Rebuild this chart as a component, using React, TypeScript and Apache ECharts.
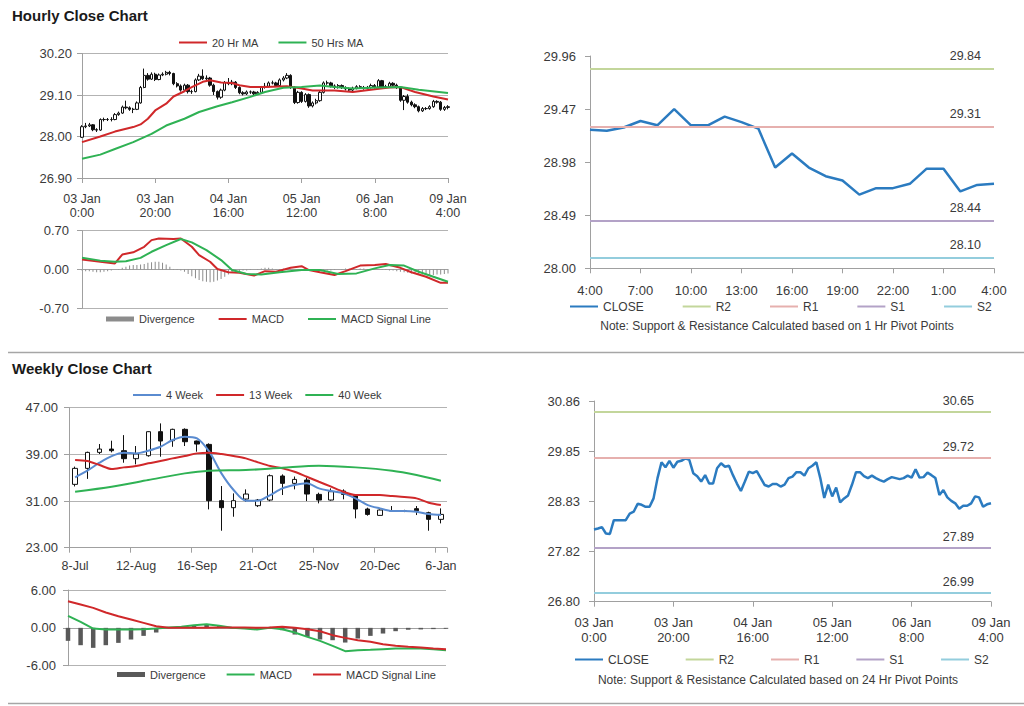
import React, { useEffect, useRef } from "react";
import * as echarts from "echarts";

// ---------- tick labels ----------
const hourlyTicks = ["03 Jan\n0:00", "03 Jan\n20:00", "04 Jan\n16:00", "05 Jan\n12:00", "06 Jan\n8:00", "09 Jan\n4:00"];
const lastDayTicks = ["4:00", "7:00", "10:00", "13:00", "16:00", "19:00", "22:00", "1:00", "4:00"];
const weeklyTicks = ["8-Jul", "12-Aug", "16-Sep", "21-Oct", "25-Nov", "20-Dec", "6-Jan"];
const dailyYTicks = ["26.80", "27.82", "28.83", "29.85", "30.86"];

// ---------- hourly (03 Jan 0:00 .. 09 Jan 4:00) ----------
const hourlyClose = [
  28.26, 28.28, 28.31, 28.18, 28.17, 28.45, 28.45, 28.45, 28.45, 28.58,
  28.62, 28.78, 28.76, 28.72, 28.72, 28.89, 29.30, 29.62, 29.52, 29.65,
  29.51, 29.63, 29.65, 29.70, 29.67, 29.40, 29.34, 29.23, 29.36, 29.19,
  29.19, 29.50, 29.60, 29.53, 29.55, 29.36, 29.19, 29.04, 29.23, 29.43,
  29.40, 29.44, 29.30, 29.16, 29.13, 29.18, 29.18, 29.13, 29.17, 29.30,
  29.33, 29.42, 29.42, 29.35, 29.50, 29.55, 29.62, 29.30, 28.90, 29.17,
  28.93, 29.11, 28.81, 28.89, 28.95, 29.17, 29.42, 29.42, 29.34, 29.30,
  29.35, 29.30, 29.26, 29.23, 29.28, 29.32, 29.30, 29.28, 29.30, 29.35,
  29.31, 29.48, 29.31, 29.32, 29.41, 29.36, 29.30, 28.96, 29.06, 28.91,
  28.84, 28.79, 28.68, 28.74, 28.74, 28.79, 28.93, 28.91, 28.72, 28.77,
  28.79,
];
const hourlyOpen = [
  27.98, 28.26, 28.28, 28.31, 28.18, 28.17, 28.45, 28.45, 28.45, 28.45,
  28.58, 28.62, 28.78, 28.76, 28.72, 28.72, 28.89, 29.30, 29.62, 29.52,
  29.65, 29.51, 29.63, 29.65, 29.70, 29.67, 29.40, 29.34, 29.23, 29.36,
  29.19, 29.19, 29.50, 29.60, 29.53, 29.55, 29.36, 29.19, 29.04, 29.23,
  29.43, 29.40, 29.44, 29.30, 29.16, 29.13, 29.18, 29.18, 29.13, 29.17,
  29.30, 29.33, 29.42, 29.42, 29.35, 29.50, 29.55, 29.62, 29.30, 28.90,
  29.17, 28.93, 29.11, 28.81, 28.89, 28.95, 29.17, 29.42, 29.42, 29.34,
  29.30, 29.35, 29.30, 29.26, 29.23, 29.28, 29.32, 29.30, 29.28, 29.30,
  29.35, 29.31, 29.48, 29.31, 29.32, 29.41, 29.36, 29.30, 28.96, 29.06,
  28.91, 28.84, 28.79, 28.68, 28.74, 28.74, 28.79, 28.93, 28.91, 28.72,
  28.77,
];
const hourlyHigh = [
  28.30, 28.36, 28.36, 28.33, 28.22, 28.48, 28.50, 28.49, 28.51, 28.62,
  28.66, 28.82, 28.95, 28.80, 28.76, 28.93, 29.34, 29.80, 29.68, 29.70,
  29.69, 29.67, 29.70, 29.74, 29.74, 29.69, 29.44, 29.38, 29.40, 29.39,
  29.24, 29.54, 29.66, 29.78, 29.62, 29.58, 29.40, 29.22, 29.27, 29.47,
  29.55, 29.50, 29.47, 29.33, 29.20, 29.22, 29.22, 29.21, 29.20, 29.34,
  29.42, 29.46, 29.48, 29.45, 29.54, 29.60, 29.68, 29.65, 29.33, 29.21,
  29.20, 29.15, 29.14, 28.93, 29.00, 29.21, 29.46, 29.48, 29.45, 29.38,
  29.39, 29.38, 29.33, 29.30, 29.32, 29.36, 29.36, 29.34, 29.34, 29.40,
  29.39, 29.52, 29.50, 29.37, 29.45, 29.44, 29.40, 29.33, 29.10, 29.12,
  28.95, 28.88, 28.82, 28.78, 28.78, 28.83, 28.97, 28.96, 28.94, 28.81,
  28.83,
];
const hourlyLow = [
  27.96, 28.22, 28.25, 28.14, 28.12, 28.15, 28.40, 28.41, 28.40, 28.43,
  28.55, 28.60, 28.72, 28.68, 28.62, 28.70, 28.87, 29.28, 29.48, 29.50,
  29.47, 29.49, 29.60, 29.62, 29.62, 29.36, 29.30, 29.19, 29.20, 29.14,
  29.13, 29.17, 29.47, 29.50, 29.49, 29.32, 29.10, 28.98, 29.00, 29.20,
  29.36, 29.36, 29.26, 29.12, 29.09, 29.10, 29.13, 29.10, 29.10, 29.14,
  29.27, 29.30, 29.38, 29.31, 29.32, 29.46, 29.52, 29.26, 28.86, 28.87,
  28.89, 28.90, 28.76, 28.77, 28.85, 28.92, 29.14, 29.37, 29.30, 29.26,
  29.27, 29.26, 29.22, 29.19, 29.20, 29.25, 29.26, 29.24, 29.25, 29.27,
  29.27, 29.29, 29.27, 29.28, 29.29, 29.32, 29.26, 28.92, 28.70, 28.87,
  28.80, 28.75, 28.64, 28.65, 28.70, 28.71, 28.76, 28.87, 28.68, 28.68,
  28.72,
];
// [hour index, value]
const ma20Hour = [
  [0, 27.85], [5, 28.0], [9, 28.13], [14, 28.25], [16, 28.32], [18, 28.47], [20, 28.69], [23, 28.87],
  [25, 29.06], [28, 29.2], [30, 29.31], [33, 29.45], [35, 29.49], [38, 29.43], [41, 29.42], [43, 29.36],
  [46, 29.31], [50, 29.31], [56, 29.33], [60, 29.27], [63, 29.22], [69, 29.22], [74, 29.18], [80, 29.25],
  [84, 29.3], [87, 29.31], [91, 29.18], [96, 29.06], [100, 28.98],
];
const ma50Hour = [
  [0, 27.41], [5, 27.52], [9, 27.67], [14, 27.85], [19, 28.07], [23, 28.29], [28, 28.47], [32, 28.65],
  [37, 28.8], [41, 28.91], [46, 29.05], [50, 29.18], [55, 29.29], [60, 29.31], [65, 29.35], [69, 29.31],
  [74, 29.27], [80, 29.3], [87, 29.31], [92, 29.24], [100, 29.15],
];
const hourlyDivergence = [
  -0.02, -0.03, -0.03, -0.04, -0.05, -0.05, -0.04, -0.03, -0.02,
  0.0, 0.01,
  0.03, 0.05, 0.07, 0.08, 0.08, 0.09, 0.1, 0.12, 0.13, 0.14, 0.14, 0.12, 0.09, 0.05,
  0.01, -0.01, -0.02, -0.04,
  -0.08, -0.12, -0.16, -0.19, -0.21, -0.22, -0.23, -0.22, -0.2, -0.17, -0.13, -0.09,
  -0.06, -0.04, -0.03, -0.02, -0.02, -0.01, 0.0, 0.01,
  0.02, 0.03, 0.03, 0.02, 0.01,
  0.01, 0.02, 0.02, 0.01, 0.0, -0.01, -0.01,
  -0.01, 0.0, 0.01, 0.01, 0.0, -0.01, -0.02, -0.02, -0.01, 0.0, 0.01, 0.02, 0.02, 0.01, 0.01,
  0.02, 0.02, 0.01, 0.01, 0.0, 0.0, -0.01, -0.01, -0.02, -0.02, -0.03,
  -0.04, -0.05, -0.06, -0.07, -0.08, -0.08, -0.09, -0.09, -0.1, -0.1, -0.09, -0.09, -0.08, -0.07,
];
const hourlyMacd = [
  [0, 0.18], [5, 0.14], [9, 0.11], [11, 0.27], [14, 0.31], [17, 0.41], [19, 0.53], [21, 0.56], [25, 0.55],
  [27, 0.56], [30, 0.41], [32, 0.26], [35, 0.14], [37, 0.01], [40, -0.05], [43, -0.06], [47, -0.11],
  [50, -0.03], [53, -0.04], [57, 0.03], [60, 0.06], [62, -0.01], [65, -0.05], [69, -0.1], [72, -0.03],
  [76, 0.07], [80, 0.08], [83, 0.1], [87, 0.03], [90, -0.05], [94, -0.13], [98, -0.24], [100, -0.24],
];
const hourlySignal = [
  [0, 0.21], [5, 0.16], [9, 0.14], [12, 0.15], [16, 0.21], [19, 0.32], [23, 0.44], [27, 0.55], [30, 0.49],
  [34, 0.35], [38, 0.17], [41, -0.01], [45, -0.08], [49, -0.09], [54, -0.05], [60, -0.01], [65, -0.01],
  [70, -0.08], [75, -0.07], [80, 0.02], [84, 0.08], [88, 0.07], [92, -0.04], [96, -0.13], [100, -0.22],
];

// ---------- last 24 hours (1 Hr pivots) ----------
const lastDayClose = [
  29.28, 29.27, 29.3, 29.36, 29.32, 29.47, 29.32, 29.32, 29.4, 29.35, 29.29, 28.93, 29.06,
  28.93, 28.85, 28.81, 28.68, 28.74, 28.74, 28.78, 28.92, 28.92, 28.71, 28.77, 28.78,
];
const pivotNames = ["R2", "R1", "S1", "S2"];
const pivotColors = ["#c3d69b", "#e6b0ae", "#b3a2c7", "#93cddd"];
const hourPivots = [29.84, 29.31, 28.44, 28.1];
const dayPivots = [30.65, 29.72, 27.89, 26.99];

// ---------- weekly ----------
const weeklyOpen = [
  33.86, 36.6, 39.34, 39.91, 39.63, 38.26, 38.77, 42.89, 41.34, 43.29, 41.29, 40.71, 31.06, 29.86, 31.34, 30.2,
  31.17, 35.29, 34.03, 34.6, 32.14, 31.17, 32.71, 32.03, 29.63, 28.54, 29.34, 29.29, 29.69, 29.0, 27.86,
];
const weeklyClose = [
  36.6, 39.34, 39.91, 39.63, 38.26, 39.06, 42.89, 41.29, 43.29, 41.17, 40.77, 31.06, 29.86, 31.06, 32.2, 31.17,
  35.34, 34.03, 34.71, 32.2, 31.17, 32.6, 32.14, 29.63, 28.71, 29.46, 29.29, 29.29, 29.34, 27.86, 28.71,
];
const weeklyLow = [
  33.5, 34.8, 39.06, 39.34, 37.57, 37.29, 38.6, 38.6, 40.3, 40.43, 39.46, 29.57, 25.91, 28.31, 30.89, 29.97,
  30.97, 32.03, 33.0, 31.0, 30.6, 31.06, 31.29, 28.03, 28.49, 28.49, 29.17, 29.1, 28.6, 25.91, 27.17,
];
const weeklyHigh = [
  36.9, 39.46, 40.77, 41.34, 42.3, 40.43, 42.95, 44.31, 43.4, 43.46, 41.35, 40.89, 33.57, 32.31, 33.0, 31.35,
  35.57, 35.57, 35.2, 35.0, 32.43, 33.17, 33.0, 32.2, 29.86, 29.57, 30.14, 29.5, 30.14, 29.17, 29.74,
];
const ma4Week = [
  35.06, 36.2, 37.57, 38.71, 39.29, 39.17, 39.63, 40.31, 41.46, 42.03, 41.74, 39.46, 35.74, 32.89, 31.06, 31.06,
  32.03, 33.17, 33.74, 34.03, 33.17, 32.71, 32.31, 31.46, 30.31, 29.74, 29.29, 29.29, 29.17, 28.77, 28.6,
];
const ma13Week = [
  38.03, 37.86, 37.17, 36.49, 36.77, 37.0, 37.46, 37.86, 38.31, 38.71, 39.17, 39.29, 39.06, 38.71, 38.31, 37.63,
  37.0, 36.6, 36.03, 35.17, 34.31, 33.46, 32.6, 32.03, 32.03, 32.03, 31.86, 31.69, 31.46, 30.71, 30.31,
];
const ma40Week = [
  [0, 32.6], [3, 33.46], [6, 34.6], [9, 35.74], [11, 36.2], [14, 36.31], [17, 36.71], [20, 37.06],
  [23, 36.77], [26, 36.2], [28, 35.46], [30, 34.49],
];
const weeklyDivergence = [
  -2.06, -2.75, -3.17, -2.75, -2.38, -1.85, -1.27, -0.74, 0.05, 0.16, 0.42, 0.58, 0.28, -0.05, -0.16, -0.26,
  -0.05, -0.37, -1.06, -1.43, -1.85, -1.96, -2.33, -1.69, -1.27, -0.9, -0.53, -0.3, -0.25, -0.2, -0.15,
];
const weeklyMacd = [
  1.9, 0.95, -0.11, -0.26, -0.26, -0.26, -0.21, -0.11, 0.05, 0.16, 0.42, 0.58, 0.32, 0.0, -0.11, -0.26,
  0.0, -0.21, -0.74, -1.43, -2.06, -2.85, -3.7, -3.54, -3.49, -3.38, -3.28, -3.28, -3.28, -3.38, -3.54,
];
const weeklySignal = [
  4.23, 3.7, 3.17, 2.43, 1.85, 1.32, 0.79, 0.26, 0.0, 0.0, 0.0, 0.0, 0.05, 0.05, 0.05, 0.0,
  0.05, 0.16, 0.0, -0.21, -0.53, -1.16, -1.59, -1.96, -2.22, -2.59, -2.85, -3.01, -3.12, -3.28, -3.38,
];

// ---------- styling ----------
const FONT = "'Liberation Sans', Arial, sans-serif";
const AX = "#a0a0a0";
const GRIDC = "#b3b3b3";
const TXT = "#3a3a3a";
const RED = "#d0282a";
const GREEN = "#2fb254";
const BLUE = "#2b7bc0";
const LINE_ICON = "path://M0,0L28,0L28,2L0,2Z";
const BAR_ICON = "path://M0,0L28,0L28,5L0,5Z";

const fmt2 = (v: number) => (Math.abs(v) < 1e-9 ? 0 : v).toFixed(2);
const cats = (n: number) => Array.from({ length: n }, (_, i) => String(i));

function yAxis(gridIndex: number, min: number, max: number, interval: number, split: boolean, margin: number, formatter: any) {
  return {
    type: "value", gridIndex, min, max, interval,
    axisLine: { show: true, lineStyle: { color: AX, width: 1 } },
    axisTick: { show: true, length: 5, lineStyle: { color: AX } },
    axisLabel: { color: TXT, fontSize: 13, fontFamily: FONT, margin, formatter },
    splitLine: { show: split, lineStyle: { color: GRIDC, width: 1 } },
  };
}

function catAxis(gridIndex: number, n: number, boundaryGap: boolean, labelInterval: number | null, step: number, ticks: string[] | null, margin: number, fontSize: number, lineHeight: number) {
  const show = labelInterval !== null;
  return {
    type: "category", gridIndex, data: cats(n), boundaryGap,
    axisLine: { show: true, onZero: !show, lineStyle: { color: AX, width: 1 } },
    axisTick: show ? { show: true, interval: labelInterval, length: 5, lineStyle: { color: AX } } : { show: false },
    axisLabel: show
      ? {
          show: true, interval: labelInterval, color: TXT, fontSize, fontFamily: FONT, margin, lineHeight,
          formatter: (v: string) => (ticks as string[])[Number(v) / step] ?? "",
        }
      : { show: false },
    splitLine: { show: false },
  };
}

const strip = (name: string) => name.slice(name.indexOf(":") + 1);

function legend(names: string[], bars: string[], left: number, top: number, itemGap: number, fontSize: number) {
  return {
    data: names.map((n) => ({ name: n, icon: bars.includes(n) ? BAR_ICON : LINE_ICON })),
    left, top, itemGap, itemWidth: 28, itemHeight: 5, padding: 0, symbolKeepAspect: true,
    selectedMode: false, formatter: strip,
    textStyle: { fontSize, color: TXT, fontFamily: FONT },
  };
}

function pivotSeries(prefix: string, values: number[], xi: number, yi: number, dist: number[]) {
  return pivotNames.map((n, i) => ({
    name: `${prefix}:${n}`, type: "line", xAxisIndex: xi, yAxisIndex: yi, data: [],
    color: pivotColors[i], symbol: "none", lineStyle: { color: pivotColors[i], width: 2 },
    markLine: {
      silent: true, symbol: ["none", "none"],
      lineStyle: { color: pivotColors[i], width: 2, type: "solid" },
      data: [{ yAxis: values[i] }],
      label: {
        show: true, position: "insideEndTop", distance: dist, formatter: () => values[i].toFixed(2),
        color: TXT, fontSize: 12.5, fontFamily: FONT,
      },
    },
  }));
}

export default function App() {
  const ref = useRef<HTMLDivElement>(null);
  useEffect(() => {
    if (!ref.current) return;
    const chart = echarts.init(ref.current, undefined, { renderer: "svg" });
    const hourlyCandles = hourlyOpen.map((o, i) => [o, hourlyClose[i], hourlyLow[i], hourlyHigh[i]]);
    const weeklyCandles = weeklyOpen.map((o, i) => [o, weeklyClose[i], weeklyLow[i], weeklyHigh[i]]);
    const candleStyle = { color: "#ffffff", color0: "#111111", borderColor: "#111111", borderColor0: "#111111", borderWidth: 1 };
    const line = (name: string, data: any[], color: string, xi: number, yi: number, width = 2, smooth: any = false) => ({
      name, type: "line", data, xAxisIndex: xi, yAxisIndex: yi, color, symbol: "none", smooth,
      lineStyle: { color, width }, z: 3,
    });

    const option: any = {
      animation: false,
      backgroundColor: "#ffffff",
      textStyle: { fontFamily: FONT },
      grid: [
        { left: 82, top: 53.5, width: 366, height: 124.5 },
        { left: 82, top: 230.7, width: 366, height: 77.6 },
        { left: 590, top: 56, width: 404, height: 212.3 },
        { left: 69, top: 407.7, width: 378, height: 140 },
        { left: 68, top: 590, width: 378, height: 75.7 },
        { left: 594, top: 401, width: 397, height: 200.7 },
      ],
      xAxis: [
        catAxis(0, hourlyClose.length, false, 19, 20, hourlyTicks, 14, 12.5, 14),
        catAxis(1, hourlyDivergence.length, false, null, 1, null, 0, 12, 14),
        catAxis(2, lastDayClose.length, false, 2, 3, lastDayTicks, 15, 13, 14),
        catAxis(3, weeklyClose.length, true, 4, 5, weeklyTicks, 11, 12.5, 14),
        catAxis(4, weeklyMacd.length, false, null, 1, null, 0, 12, 14),
        catAxis(5, hourlyClose.length, false, 19, 20, hourlyTicks, 13, 13, 15),
      ],
      yAxis: [
        yAxis(0, 26.9, 30.2, 1.1, true, 10, fmt2),
        yAxis(1, -0.7, 0.7, 0.7, true, 13, fmt2),
        yAxis(2, 28.0, 29.96, 0.49, false, 14, fmt2),
        yAxis(3, 23, 47, 8, true, 11, fmt2),
        yAxis(4, -6, 6, 6, true, 12, fmt2),
        yAxis(5, 26.8, 30.86, 1.015, false, 14, (v: number) => dailyYTicks[Math.round((v - 26.8) / 1.015)] ?? ""),
      ],
      legend: [
        legend(["h:20 Hr MA", "h:50 Hrs MA"], [], 179, 37, 20, 11),
        legend(["hm:Divergence", "hm:MACD", "hm:MACD Signal Line"], ["hm:Divergence"], 106, 313.5, 24, 11),
        legend(["t:CLOSE", "t:R2", "t:R1", "t:S1", "t:S2"], [], 570, 300.5, 39, 12),
        legend(["w:4 Week", "w:13 Week", "w:40 Week"], [], 133, 389.5, 13, 11),
        legend(["wm:Divergence", "wm:MACD", "wm:MACD Signal Line"], ["wm:Divergence"], 117, 669, 21, 11),
        legend(["d:CLOSE", "d:R2", "d:R1", "d:S1", "d:S2"], [], 575, 653.5, 37, 12),
      ],
      series: [
        { name: "h:Candles", type: "candlestick", xAxisIndex: 0, yAxisIndex: 0, data: hourlyCandles, barWidth: 2.8, itemStyle: candleStyle },
        line("h:20 Hr MA", ma20Hour, RED, 0, 0, 2),
        line("h:50 Hrs MA", ma50Hour, GREEN, 0, 0, 2),

        { name: "hm:Divergence", type: "bar", xAxisIndex: 1, yAxisIndex: 1, data: hourlyDivergence, barWidth: 1, color: "#8c8c8c", itemStyle: { color: "#8c8c8c" } },
        line("hm:MACD", hourlyMacd, RED, 1, 1, 2),
        line("hm:MACD Signal Line", hourlySignal, GREEN, 1, 1, 2),

        line("t:CLOSE", lastDayClose, BLUE, 2, 2, 2.5),
        ...pivotSeries("t", hourPivots, 2, 2, [13, 6]),

        { name: "w:Candles", type: "candlestick", xAxisIndex: 3, yAxisIndex: 3, data: weeklyCandles, barWidth: 5, itemStyle: candleStyle },
        line("w:4 Week", ma4Week, "#5a8bd0", 3, 3, 2, 0.3),
        line("w:13 Week", ma13Week, RED, 3, 3, 2, 0.3),
        line("w:40 Week", ma40Week, GREEN, 3, 3, 2, 0.3),

        { name: "wm:Divergence", type: "bar", xAxisIndex: 4, yAxisIndex: 4, data: weeklyDivergence, barWidth: 4.5, clip: false, color: "#595959", itemStyle: { color: "#595959" } },
        line("wm:MACD", weeklyMacd, GREEN, 4, 4, 2),
        line("wm:MACD Signal Line", weeklySignal, RED, 4, 4, 2),

        line("d:CLOSE", hourlyClose, BLUE, 5, 5, 2.5),
        ...pivotSeries("d", dayPivots, 5, 5, [17, 4]),
      ],
      graphic: [
        { type: "text", left: 12, top: 8, style: { text: "Hourly Close Chart", fontSize: 15, fontWeight: "bold", fontFamily: FONT, fill: "#1a1a1a" } },
        { type: "text", left: 12, top: 361, style: { text: "Weekly Close Chart", fontSize: 15, fontWeight: "bold", fontFamily: FONT, fill: "#1a1a1a" } },
        { type: "line", shape: { x1: 8, y1: 352.5, x2: 1024, y2: 352.5 }, style: { stroke: "#a6a6a6", lineWidth: 1.5 } },
        { type: "line", shape: { x1: 8, y1: 703.5, x2: 1024, y2: 703.5 }, style: { stroke: "#a6a6a6", lineWidth: 1.5 } },
        {
          type: "text", x: 777, y: 326,
          style: { text: "Note: Support & Resistance Calculated based on 1 Hr Pivot Points", align: "center", verticalAlign: "middle", textAlign: "center", textVerticalAlign: "middle", fontSize: 12, fontFamily: FONT, fill: TXT },
        },
        {
          type: "text", x: 778, y: 680,
          style: { text: "Note: Support & Resistance Calculated based on 24 Hr Pivot Points", align: "center", verticalAlign: "middle", textAlign: "center", textVerticalAlign: "middle", fontSize: 12, fontFamily: FONT, fill: TXT },
        },
      ],
    };
    chart.setOption(option);
    return () => chart.dispose();
  }, []);
  return <div ref={ref} style={{ position: "absolute", left: 0, top: 0, width: 1024, height: 706, background: "#fff" }} />;
}
